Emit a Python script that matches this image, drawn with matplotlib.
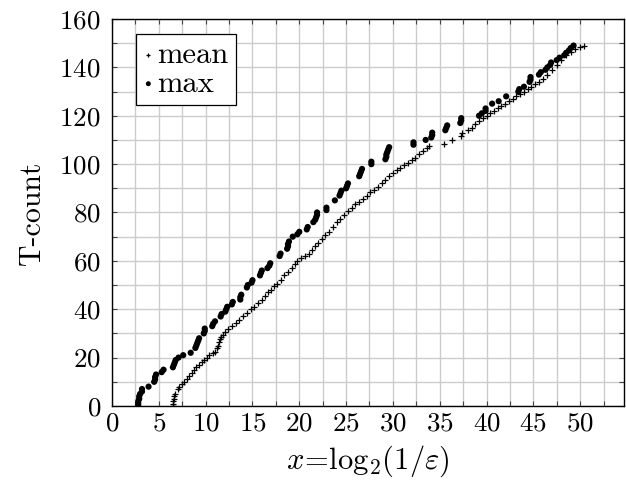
import matplotlib
matplotlib.use("Agg")
import matplotlib.pyplot as plt
from matplotlib.ticker import MultipleLocator

# T-count vs x = log2(1/eps)
max_x = [2.8, 2.8, 2.8, 2.9, 2.9, 3.0, 3.2, 3.2, 3.9, 4.5, 4.6, 4.6, 4.7, 5.3, 5.5,
         6.5, 6.6, 6.7, 6.8, 7.1, 7.6, 8.4, 8.9, 9.0, 9.1, 9.2, 9.3, 9.8, 9.9, 9.9,
         10.7, 10.8, 11.0, 11.6, 11.7, 12.1, 12.2, 12.3, 12.8, 12.9, 13.7, 13.7, 13.8,
         14.4, 14.5, 14.9, 15.0, 15.8, 15.9, 16.0, 16.6, 16.8, 16.9, 17.9, 18.0, 18.7,
         18.8, 18.8, 18.9, 19.3, 19.8, 20.0, 20.8, 20.9, 21.5, 21.7, 21.8, 21.9, 21.9,
         22.9, 22.9, 23.8, 24.3, 24.4, 24.5, 25.0, 25.1, 25.2, 26.4, 26.5, 26.6, 26.7,
         27.7, 27.7, 29.2, 29.3, 29.3, 29.4, 29.5, 29.6, 32.2, 32.2, 33.5, 34.1, 34.2,
         34.2, 35.6, 35.7, 35.8, 37.2, 37.3, 37.3, 39.2, 39.5, 39.9, 39.9, 40.6, 41.3,
         42.1, 43.4, 43.5, 44.0, 44.6, 44.7, 44.7, 45.6, 45.8, 46.3, 46.5, 46.8, 46.9,
         47.5, 47.8, 48.3, 48.5, 48.8, 49.0, 49.3]
max_y = [0, 1, 2, 3, 4, 5, 6, 7, 8, 10, 11, 12, 13, 14, 15,
         16, 17, 18, 19, 20, 21, 22, 24, 25, 26, 27, 28, 30, 31, 32,
         33, 34, 35, 37, 38, 39, 40, 41, 42, 43, 44, 45, 46,
         49, 50, 51, 52, 54, 55, 56, 57, 58, 59, 62, 63, 65,
         66, 67, 68, 70, 71, 72, 73, 74, 76, 77, 78, 79, 80,
         81, 82, 85, 87, 88, 89, 90, 91, 92, 95, 96, 97, 98,
         100, 101, 102, 103, 104, 105, 106, 107, 108, 109, 110, 111, 112,
         113, 114, 115, 116, 117, 118, 119, 120, 121, 122, 123, 125, 126,
         128, 130, 131, 132, 134, 135, 136, 137, 138, 139, 140, 141, 142,
         143, 144, 145, 146, 147, 148, 149]

mean_x = [6.5, 6.5, 6.5, 6.6, 6.6, 6.7, 7.0, 7.2, 7.5, 7.7, 8.0, 8.2, 8.5, 8.8, 9.0,
          9.3, 9.6, 9.8, 10.1, 10.4, 10.8, 11.0, 11.2, 11.3, 11.4, 11.5, 11.6, 11.8,
          12.1, 12.4, 12.8, 13.2, 13.6, 14.0, 14.4, 14.8, 15.2, 15.6, 16.0, 16.3, 16.7,
          17.0, 17.3, 17.6, 18.0, 18.4, 18.8, 19.2, 19.5, 19.8, 20.2, 20.6, 21.0, 21.4,
          21.7, 22.0, 22.4, 22.8, 23.2, 23.6, 24.0, 24.4, 24.8, 25.2, 25.6, 26.0, 26.4,
          26.8, 27.2, 27.6, 28.0, 28.4, 28.8, 29.2, 29.6, 30.0, 30.4, 30.8, 31.2, 31.6,
          32.0, 32.4, 32.8, 33.2, 33.6, 33.9, 35.5, 36.3, 37.3, 37.4, 38.0, 38.4, 38.8,
          39.2, 39.6, 40.0, 40.4, 40.8, 41.2, 41.6, 42.0, 42.4, 42.8, 43.2, 43.6, 44.0,
          44.4, 44.8, 45.2, 45.6, 46.0, 46.5, 47.0, 47.5, 48.0, 48.5, 49.0, 49.5, 50.0,
          50.4]
mean_y = [0, 1, 2, 3, 4, 5, 7, 8, 9, 10, 11, 12.5, 13.5, 15, 16,
          17, 18, 19, 20, 21, 22, 22.5, 24, 25, 26.5, 27.5, 28.5, 29.5,
          30.5, 32, 33, 34.5, 35.5, 37, 38.5, 40, 41, 42.5, 44, 45.5, 47,
          48, 49.5, 50.5, 52, 54, 55.5, 57, 58.5, 60, 61, 62, 63, 64.5,
          66, 67.5, 69, 70.5, 72, 74, 76, 77.5, 79, 80.5, 82, 83.5, 84.5,
          85.5, 87, 88.5, 89.5, 90.5, 92, 93.5, 95, 96.5, 97.5, 98.5, 99.5, 100.5,
          101.5, 102.5, 104, 105.5, 106.5, 107.5, 108.5, 110, 111.5, 113, 114, 115, 116.5,
          118, 119, 120, 121, 122, 123, 124, 125, 126, 127, 128, 129, 130,
          131, 132, 133, 134, 135, 137, 139, 141, 143, 145, 146.5, 147.5, 148.5,
          149]

plt.rcParams['font.family'] = 'serif'
plt.rcParams['font.serif'] = ['cmr10']
plt.rcParams['mathtext.fontset'] = 'cm'
plt.rcParams['axes.formatter.use_mathtext'] = True

fig = plt.figure(figsize=(6.26, 4.93), dpi=100)
ax = fig.add_axes([0.179, 0.1765, 0.818, 0.785])

ax.scatter(mean_x, mean_y, marker='+', s=16, linewidths=0.9, color='black',
           label='mean', zorder=3)
ax.scatter(max_x, max_y, marker='o', s=20, color='black', edgecolors='none',
           label='max', zorder=3)

ax.set_xlim(0, 54.7)
ax.set_ylim(0, 160)
ax.xaxis.set_major_locator(MultipleLocator(5))
ax.xaxis.set_minor_locator(MultipleLocator(2.5))
ax.yaxis.set_major_locator(MultipleLocator(20))
ax.yaxis.set_minor_locator(MultipleLocator(10))

ax.grid(which='both', color='#cccccc', linewidth=1.0, zorder=0)
ax.set_axisbelow(True)
ax.tick_params(which='both', direction='in', top=True, right=True,
               length=3.5, width=0.8, color='#444444', labelsize=19.5)
ax.tick_params(axis='x', pad=4)
ax.tick_params(axis='y', pad=8)
for sp in ax.spines.values():
    sp.set_linewidth(1.0)

ax.set_xlabel(r'$x\!=\!\log_2\!(1/\varepsilon)$', fontsize=22, labelpad=6)
ax.set_ylabel('T-count', fontsize=21.5, labelpad=10)

leg = ax.legend(loc='upper left', bbox_to_anchor=(0.047, 0.962), fontsize=22,
                frameon=True, fancybox=False, framealpha=1, edgecolor='black',
                handlelength=0.3, handletextpad=0.15, borderpad=0.25,
                labelspacing=0.05, borderaxespad=0, markerscale=0.8)
leg.get_frame().set_linewidth(0.9)

fig.savefig('out.png', dpi=100)
